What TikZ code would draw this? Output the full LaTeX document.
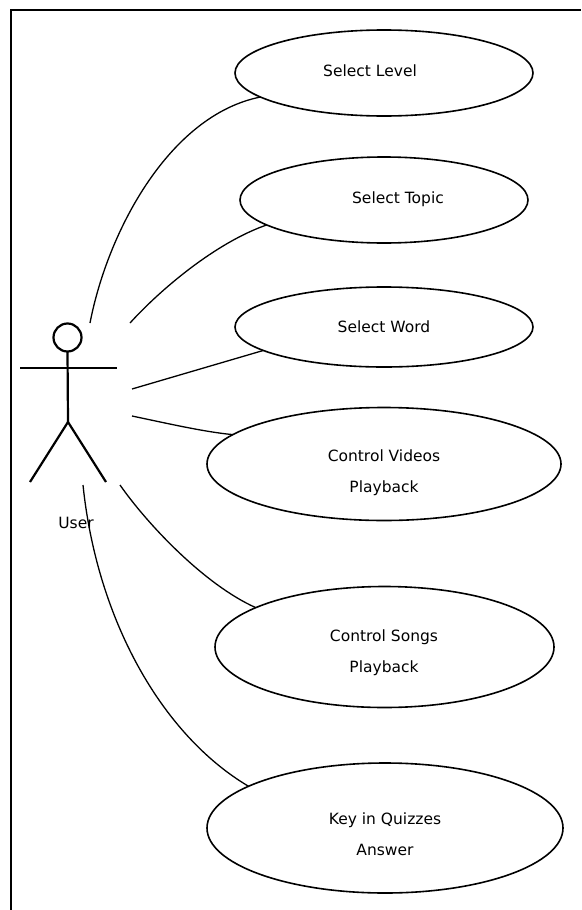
\documentclass[tikz,border=0pt]{standalone}
\usepackage{fontspec}
\setmainfont{DejaVu Sans}
\usetikzlibrary{shapes.geometric}
\begin{document}
\begin{tikzpicture}[x=1pt,y=-1pt,
  uc/.style={draw, ellipse, line width=1.6pt, inner sep=0pt, outer sep=0pt},
  lbl/.style={font=\fontsize{15.5}{31}\selectfont, align=center, inner sep=0pt},
  conn/.style={line width=1.3pt},
  fig/.style={line width=2.2pt},
  frame/.style={line width=2.5pt}]
\useasboundingbox[fill=white] (0,0) rectangle (581,910);
% frame
\coordinate (fbl) at (11,910);
\coordinate (ftl) at (11,10);
\coordinate (ftr) at (581,10);
\draw[frame] (fbl) -- (ftl) -- (ftr);
% use cases
\node[uc, minimum width=298pt, minimum height=86pt] (lvl) at (384,73) {};
\node[uc, minimum width=288pt, minimum height=86pt] (top) at (384,200) {};
\node[uc, minimum width=298pt, minimum height=80pt] (wrd) at (384,327) {};
\node[uc, minimum width=354pt, minimum height=113pt] (vid) at (384,464) {};
\node[uc, minimum width=339pt, minimum height=121pt] (sng) at (384.5,647) {};
\node[uc, minimum width=356pt, minimum height=130pt] (qz) at (385,828) {};
\node[lbl] (lvlT) at (370,71) {Select Level};
\node[lbl] (topT) at (398,199) {Select Topic};
\node[lbl] (wrdT) at (384,327) {Select Word};
\node[lbl] (vidT) at (384,473) {Control Videos\\Playback};
\node[lbl] (sngT) at (384,653) {Control Songs\\Playback};
\node[lbl] (qzT) at (385,834) {Key in Quizzes\\Answer};
% actor
\node[draw, circle, fig, minimum size=28pt, inner sep=0pt, outer sep=0pt] (head) at (67.5,337.5) {};
\coordinate (hip) at (68,422);
\coordinate (armL) at (20,368);
\coordinate (armR) at (117,368);
\coordinate (legL) at (30,482);
\coordinate (legR) at (106,482);
\draw[fig] (head.south) -- (hip);
\draw[fig] (armL) -- (armR);
\draw[fig] (legL) -- (hip) -- (legR);
\node[lbl] (user) at (76,523) {User};
% connector start points
\coordinate (a1) at (90,323);
\coordinate (a2) at (130,323);
\coordinate (a3) at (132,389);
\coordinate (a4) at (132,416);
\coordinate (a5) at (120,485);
\coordinate (a6) at (83,485);
\draw[conn] (a1) .. controls (108,230) and (170,115) .. (lvl.191);
\draw[conn] (a2) .. controls (160,290) and (215,243) .. (top.192);
\draw[conn] (a3) -- (wrd.191);
\draw[conn] (a4) .. controls (170,424) and (205,432) .. (vid.169);
\draw[conn] (a5) .. controls (148,525) and (205,585) .. (sng.163);
\draw[conn] (a6) .. controls (97,620) and (162,735) .. (qz.163);
\end{tikzpicture}
\end{document}
